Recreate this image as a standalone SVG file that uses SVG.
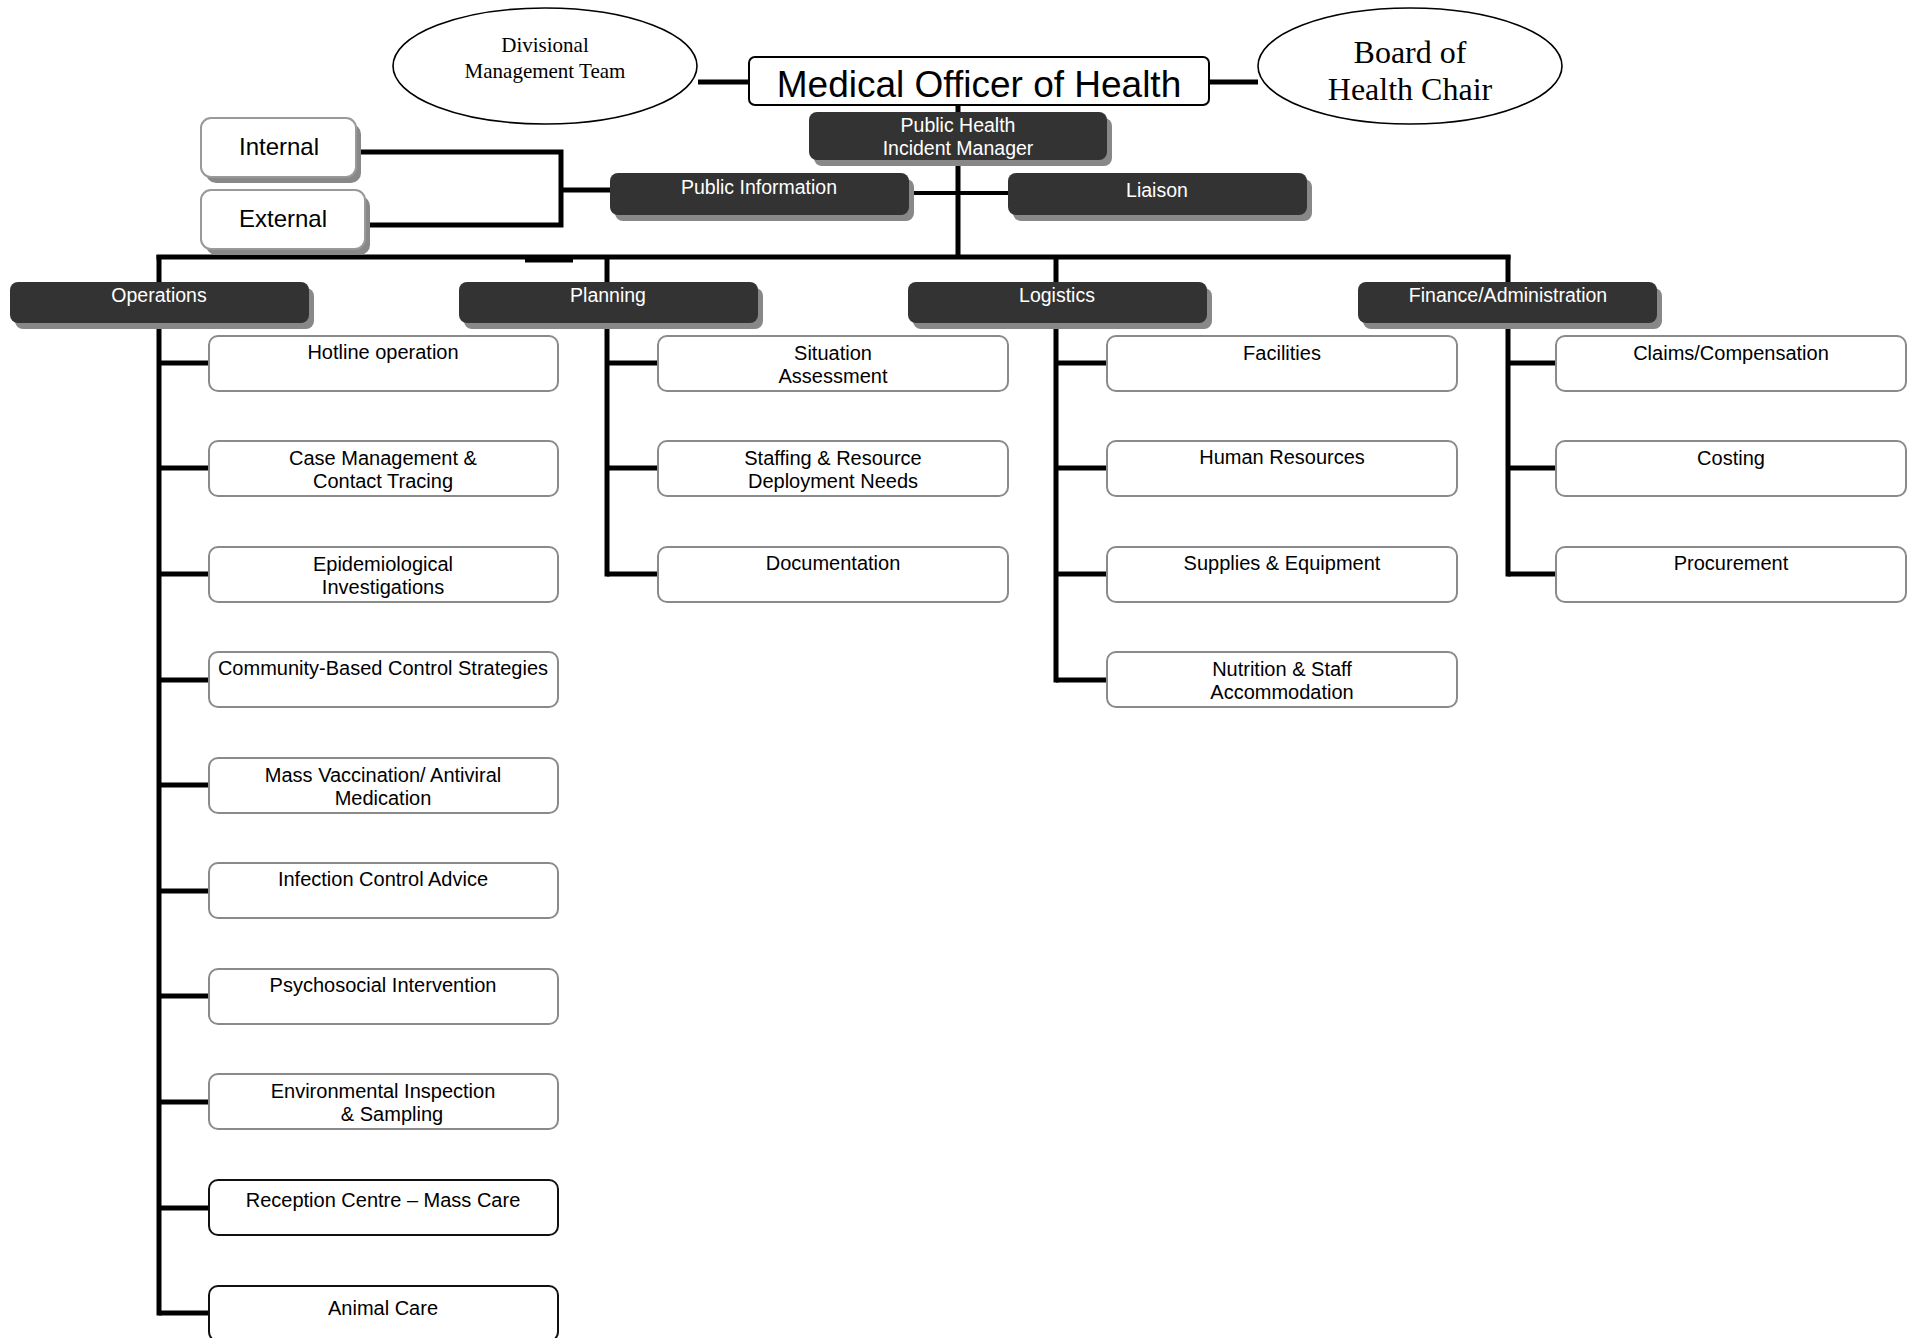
<svg xmlns="http://www.w3.org/2000/svg" width="1913" height="1338" viewBox="0 0 1913 1338">
<defs>
<style>
.conn{stroke:#000;stroke-width:5;fill:none;stroke-linejoin:miter;stroke-linecap:butt}
.thin{stroke:#000;stroke-width:4;fill:none}
.dark{fill:#333}
.shadow{fill:#888}
.wbox{fill:#fff;stroke:#999;stroke-width:2}
.sub{fill:#fff;stroke:#8a8a8a;stroke-width:2}
.subk{fill:#fff;stroke:#111;stroke-width:2}
.ell{fill:#fff;stroke:#000;stroke-width:1.6}
.ht{font-family:"Liberation Sans",Arial,sans-serif;font-size:19.5px;fill:#fff;text-anchor:middle}
.st{font-family:"Liberation Sans",Arial,sans-serif;font-size:20px;fill:#000;text-anchor:middle}
.it{font-family:"Liberation Sans",Arial,sans-serif;font-size:24px;fill:#000;text-anchor:middle}
.se{font-family:"Liberation Serif","Times New Roman",serif;fill:#000;text-anchor:middle}
</style>
</defs>
<rect width="1913" height="1338" fill="#fff"/>

<g id="connectors">
<path class="conn" d="M698 82H749"/>
<path class="conn" d="M1209 82H1258"/>
<path class="conn" d="M958 105V257"/>
<path class="thin" d="M909 193H1008"/>
<path class="conn" d="M356 152H561V225H365"/>
<path class="conn" d="M561 190H610"/>
<path class="conn" d="M156.5 257H1510.5"/>
<path class="conn" d="M525 260H573"/>
<path class="conn" d="M159 255V1315.5"/>
<path class="conn" d="M607 255V576.5"/>
<path class="conn" d="M1056 255V682.5"/>
<path class="conn" d="M1508 255V576.5"/>
<path class="conn" d="M159 363H209M159 468H209M159 574H209M159 680H209M159 785H209M159 891H209M159 996H209M159 1102H209M159 1208H209M159 1313H209"/>
<path class="conn" d="M607 363H658M607 468H658M607 574H658"/>
<path class="conn" d="M1056 363H1107M1056 468H1107M1056 574H1107M1056 680H1107"/>
<path class="conn" d="M1508 363H1556M1508 468H1556M1508 574H1556"/>
</g>

<g id="dmt">
<ellipse class="ell" cx="545" cy="66" rx="152" ry="58"/>
<text class="se" font-size="21" x="545" y="52">Divisional</text>
<text class="se" font-size="21" x="545" y="78">Management Team</text>
</g>
<g id="board">
<ellipse class="ell" cx="1410" cy="66" rx="152" ry="58"/>
<text class="se" font-size="32" x="1410" y="63">Board of</text>
<text class="se" font-size="32" x="1410" y="100">Health Chair</text>
</g>
<g id="moh">
<rect x="749" y="57" width="460" height="48" rx="6" fill="#fff" stroke="#000" stroke-width="2"/>
<text x="979" y="97" font-family="Liberation Sans, Arial, sans-serif" font-size="37" text-anchor="middle" fill="#000">Medical Officer of Health</text>
</g>
<g id="phim">
<rect class="shadow" x="814" y="118" width="298" height="48" rx="8"/>
<rect class="dark" x="809" y="112" width="298" height="48" rx="8"/>
<text class="ht" x="958" y="132">Public Health</text>
<text class="ht" x="958" y="155">Incident Manager</text>
</g>
<g id="internal">
<rect class="shadow" x="206" y="124" width="155" height="59" rx="10" fill="#999"/>
<rect class="wbox" x="201" y="118" width="155" height="59" rx="10"/>
<text class="it" x="279" y="155">Internal</text>
</g>
<g id="external">
<rect class="shadow" x="206" y="196" width="164" height="59" rx="10" fill="#999"/>
<rect class="wbox" x="201" y="190" width="164" height="59" rx="10"/>
<text class="it" x="283" y="227">External</text>
</g>
<g id="public-information">
<rect class="shadow" x="615" y="179" width="299" height="42" rx="8"/>
<rect class="dark" x="610" y="173" width="299" height="42" rx="8"/>
<text class="ht" x="759" y="194">Public Information</text>
</g>
<g id="liaison">
<rect class="shadow" x="1013" y="179" width="299" height="42" rx="8"/>
<rect class="dark" x="1008" y="173" width="299" height="42" rx="8"/>
<text class="ht" x="1157" y="197">Liaison</text>
</g>

<g id="operations">
<rect class="shadow" x="15" y="288" width="299" height="41" rx="8"/>
<rect class="dark" x="10" y="282" width="299" height="41" rx="8"/>
<text class="ht" x="159" y="302">Operations</text>
</g>
<g id="planning">
<rect class="shadow" x="464" y="288" width="299" height="41" rx="8"/>
<rect class="dark" x="459" y="282" width="299" height="41" rx="8"/>
<text class="ht" x="608" y="302">Planning</text>
</g>
<g id="logistics">
<rect class="shadow" x="913" y="288" width="299" height="41" rx="8"/>
<rect class="dark" x="908" y="282" width="299" height="41" rx="8"/>
<text class="ht" x="1057" y="302">Logistics</text>
</g>
<g id="finance">
<rect class="shadow" x="1363" y="288" width="299" height="41" rx="8"/>
<rect class="dark" x="1358" y="282" width="299" height="41" rx="8"/>
<text class="ht" x="1508" y="302">Finance/Administration</text>
</g>

<g id="hotline"><rect class="sub" x="209" y="336" width="349" height="55" rx="9"/><text class="st" x="383" y="359">Hotline operation</text></g>
<g id="case-management"><rect class="sub" x="209" y="441" width="349" height="55" rx="9"/><text class="st" x="383" y="465">Case Management &amp;</text><text class="st" x="383" y="488">Contact Tracing</text></g>
<g id="epidemiological"><rect class="sub" x="209" y="547" width="349" height="55" rx="9"/><text class="st" x="383" y="571">Epidemiological</text><text class="st" x="383" y="594">Investigations</text></g>
<g id="community"><rect class="sub" x="209" y="652" width="349" height="55" rx="9"/><text class="st" x="383" y="675">Community-Based Control Strategies</text></g>
<g id="mass-vaccination"><rect class="sub" x="209" y="758" width="349" height="55" rx="9"/><text class="st" x="383" y="782">Mass Vaccination/ Antiviral</text><text class="st" x="383" y="805">Medication</text></g>
<g id="infection-control"><rect class="sub" x="209" y="863" width="349" height="55" rx="9"/><text class="st" x="383" y="886">Infection Control Advice</text></g>
<g id="psychosocial"><rect class="sub" x="209" y="969" width="349" height="55" rx="9"/><text class="st" x="383" y="992">Psychosocial Intervention</text></g>
<g id="environmental"><rect class="sub" x="209" y="1074" width="349" height="55" rx="9"/><text class="st" x="383" y="1098">Environmental Inspection</text><text class="st" x="392" y="1121">&amp; Sampling</text></g>
<g id="reception"><rect class="subk" x="209" y="1180" width="349" height="55" rx="9"/><text class="st" x="383" y="1207">Reception Centre – Mass Care</text></g>
<g id="animal-care"><rect class="subk" x="209" y="1286" width="349" height="55" rx="9"/><text class="st" x="383" y="1315">Animal Care</text></g>

<g id="situation"><rect class="sub" x="658" y="336" width="350" height="55" rx="9"/><text class="st" x="833" y="360">Situation</text><text class="st" x="833" y="383">Assessment</text></g>
<g id="staffing"><rect class="sub" x="658" y="441" width="350" height="55" rx="9"/><text class="st" x="833" y="465">Staffing &amp; Resource</text><text class="st" x="833" y="488">Deployment Needs</text></g>
<g id="documentation"><rect class="sub" x="658" y="547" width="350" height="55" rx="9"/><text class="st" x="833" y="570">Documentation</text></g>

<g id="facilities"><rect class="sub" x="1107" y="336" width="350" height="55" rx="9"/><text class="st" x="1282" y="360">Facilities</text></g>
<g id="human-resources"><rect class="sub" x="1107" y="441" width="350" height="55" rx="9"/><text class="st" x="1282" y="464">Human Resources</text></g>
<g id="supplies"><rect class="sub" x="1107" y="547" width="350" height="55" rx="9"/><text class="st" x="1282" y="570">Supplies &amp; Equipment</text></g>
<g id="nutrition"><rect class="sub" x="1107" y="652" width="350" height="55" rx="9"/><text class="st" x="1282" y="676">Nutrition &amp; Staff</text><text class="st" x="1282" y="699">Accommodation</text></g>

<g id="claims"><rect class="sub" x="1556" y="336" width="350" height="55" rx="9"/><text class="st" x="1731" y="360">Claims/Compensation</text></g>
<g id="costing"><rect class="sub" x="1556" y="441" width="350" height="55" rx="9"/><text class="st" x="1731" y="465">Costing</text></g>
<g id="procurement"><rect class="sub" x="1556" y="547" width="350" height="55" rx="9"/><text class="st" x="1731" y="570">Procurement</text></g>
</svg>
